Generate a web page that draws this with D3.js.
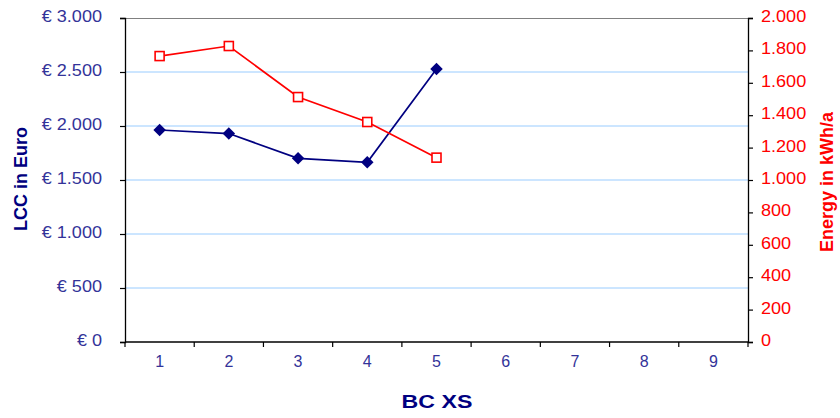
<!DOCTYPE html>
<html><head><meta charset="utf-8">
<script src="https://cdn.jsdelivr.net/npm/d3@7"></script>
<style>
body{margin:0;background:#fff;}
text{font-family:"Liberation Sans",Arial,sans-serif;}
</style></head>
<body><svg id="c" width="840" height="418"></svg>
<script>
const categories = ["1","2","3","4","5","6","7","8","9"];
const lccValues = [1963, 1930, 1701, 1664, 2528];
const energyValues = [1765, 1827, 1512, 1358, 1138];
const lccTicks = [0, 500, 1000, 1500, 2000, 2500, 3000];
const energyTicks = [0, 200, 400, 600, 800, 1000, 1200, 1400, 1600, 1800, 2000];

const svg = d3.select("#c");
const L = 125, R = 748, T = 18, B = 342;
const x = d3.scaleBand().domain(categories).range([L, R]);
const yL = d3.scaleLinear().domain([0, 3000]).range([B, T]);
const yR = d3.scaleLinear().domain([0, 2000]).range([B, T]);
const fmt = d3.format(",");
const deFmt = v => fmt(v).replace(/,/g, ".");
const SX = 1.13;

// grid
svg.append("g").selectAll("line").data(lccTicks.filter(d => d > 0 && d < 3000)).join("line")
  .attr("x1", L).attr("x2", R).attr("y1", d => yL(d)).attr("y2", d => yL(d))
  .attr("stroke", "#99ccff").attr("stroke-width", 1);
// top border
svg.append("line").attr("x1", L).attr("x2", R).attr("y1", T + 0.5).attr("y2", T + 0.5)
  .attr("stroke", "#808080").attr("stroke-width", 1);

function styleAxis(g, color) {
  g.select(".domain").attr("stroke", "#000").attr("stroke-width", 1.3);
  g.selectAll(".tick line").attr("stroke", "#000").attr("stroke-width", 1.2);
  g.selectAll(".tick text").attr("fill", color).style("font-size", "16px")
    .attr("font-family", "Liberation Sans, Arial, sans-serif");
}

// left axis
const gL = svg.append("g").attr("transform", `translate(${L},0)`)
  .call(d3.axisLeft(yL).tickValues(lccTicks).tickSize(5).tickPadding(18).tickFormat(d => "€ " + deFmt(d)));
styleAxis(gL, "#333399");
gL.selectAll(".tick text").attr("dy", "0.22em").each(function(){
  const t = d3.select(this); const xx = +t.attr("x");
  t.attr("x", xx / SX).attr("transform", `scale(${SX},1)`);
});

// right axis
const gR = svg.append("g").attr("transform", `translate(${R},0)`)
  .call(d3.axisRight(yR).tickValues(energyTicks).tickSize(5).tickPadding(8).tickFormat(deFmt));
styleAxis(gR, "#ff0000");
gR.selectAll(".tick text").attr("dy", "0.22em").each(function(){
  const t = d3.select(this); const xx = +t.attr("x");
  t.attr("x", xx / SX).attr("transform", `scale(${SX},1)`);
});

// bottom axis with ticks at band boundaries
const gB = svg.append("g").attr("transform", `translate(0,${B})`)
  .call(d3.axisBottom(x).tickSize(0).tickPadding(14));
styleAxis(gB, "#333399");
gB.select(".domain").attr("d", `M${L},0H${R}`);
gB.selectAll(".tick text").attr("dy", "0.71em");
svg.append("g").selectAll("line").data(categories.concat(["end"])).join("line")
  .attr("x1", (d,i) => L + i * x.bandwidth()).attr("x2", (d,i) => L + i * x.bandwidth())
  .attr("y1", B).attr("y2", B + 5).attr("stroke", "#000").attr("stroke-width", 1.2);

// axis titles
svg.append("text").attr("transform", `translate(437,408) scale(1.22,1)`)
  .attr("text-anchor", "middle").attr("fill", "#000080").attr("font-weight", "bold")
  .style("font-size", "19px").text("BC XS");
svg.append("text").attr("transform", `translate(27,179) rotate(-90)`)
  .attr("text-anchor", "middle").attr("fill", "#000080").attr("font-weight", "bold")
  .style("font-size", "18px").text("LCC in Euro");
svg.append("text").attr("transform", `translate(833,182) rotate(-90)`)
  .attr("text-anchor", "middle").attr("fill", "#ff0000").attr("font-weight", "bold")
  .style("font-size", "18px").text("Energy in kWh/a");

const cx = i => x(categories[i]) + x.bandwidth() / 2;

// LCC line
svg.append("path").datum(lccValues)
  .attr("d", d3.line().x((d,i) => cx(i)).y(d => yL(d)))
  .attr("fill", "none").attr("stroke", "#000080").attr("stroke-width", 1.7);
svg.append("g").selectAll("path").data(lccValues).join("path")
  .attr("d", d3.symbol(d3.symbolDiamond2, 100))
  .attr("transform", (d,i) => `translate(${cx(i)},${yL(d)})`)
  .attr("fill", "#000080");

// Energy line
svg.append("path").datum(energyValues)
  .attr("d", d3.line().x((d,i) => cx(i)).y(d => yR(d)))
  .attr("fill", "none").attr("stroke", "#ff0000").attr("stroke-width", 1.7);
svg.append("g").selectAll("rect").data(energyValues).join("rect")
  .attr("x", (d,i) => cx(i) - 4.5).attr("y", d => yR(d) - 4.5)
  .attr("width", 9).attr("height", 9)
  .attr("fill", "#fff").attr("stroke", "#ff0000").attr("stroke-width", 1.6);
</script></body></html>
